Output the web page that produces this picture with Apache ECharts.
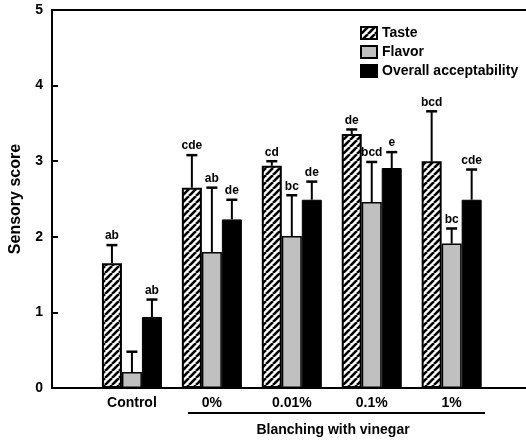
<!DOCTYPE html>
<html><head><meta charset="utf-8">
<script src="https://cdn.jsdelivr.net/npm/echarts@6/dist/echarts.min.js"></script>
<style>html,body{margin:0;padding:0;background:#fff}#c{width:526px;height:442px}</style>
</head><body><div id="c"></div>
<script>
const categories = ['Control', '0%', '0.01%', '0.1%', '1%'];
const seriesNames = ['Taste', 'Flavor', 'Overall acceptability'];
const taste = [1.65, 2.65, 2.94, 3.36, 3.00];
const flavor = [0.21, 1.80, 2.01, 2.46, 1.91];
const overall = [0.94, 2.23, 2.49, 2.91, 2.49];
const tasteErr = [0.24, 0.43, 0.06, 0.06, 0.66];
const flavorErr = [0.27, 0.85, 0.54, 0.53, 0.20];
const overallErr = [0.23, 0.26, 0.24, 0.21, 0.40];
const tasteLetters = ['ab', 'cde', 'cd', 'de', 'bcd'];
const flavorLetters = ['', 'ab', 'bc', 'bcd', 'bc'];
const overallLetters = ['ab', 'de', 'de', 'e', 'cde'];
const yTicks = [0, 1, 2, 3, 4, 5];

const FONT = 'Arial, "Liberation Sans", sans-serif';

function hatch() {
  const s = 7;
  const c = document.createElement('canvas');
  c.width = s; c.height = s;
  const g = c.getContext('2d');
  g.fillStyle = '#fff'; g.fillRect(0, 0, s, s);
  g.strokeStyle = '#000'; g.lineWidth = 2.6;
  for (const k of [-s, 0, s]) {
    g.beginPath(); g.moveTo(k, s); g.lineTo(k + s, 0); g.stroke();
  }
  return c;
}

const chart = echarts.init(document.getElementById('c'), null, {renderer: 'canvas'});
const values = [taste, flavor, overall];
const errs = [tasteErr, flavorErr, overallErr];
const letters = [tasteLetters, flavorLetters, overallLetters];
const styles = [
  {color: {image: hatch(), repeat: 'repeat'}, borderColor: '#000', borderWidth: 2},
  {color: '#c0c0c0', borderColor: '#000', borderWidth: 1.5},
  {color: '#000', borderColor: '#000', borderWidth: 1}
];
const offsets = [-20, 0, 20];

const series = [];
values.forEach((vals, si) => {
  series.push({
    name: seriesNames[si], type: 'bar', barWidth: 20, barGap: '0%',
    itemStyle: styles[si],
    data: vals.map((v, i) => [i + 1, v]),
    z: 2
  });
});
values.forEach((vals, si) => {
  series.push({
    type: 'custom', name: 'err' + si, silent: true, z: 3,
    data: vals.map((v, i) => [i + 1, v, errs[si][i]]),
    renderItem: function (params, api) {
      const x = api.value(0), y = api.value(1), e = api.value(2);
      const lab = letters[si][params.dataIndex];
      const p0 = api.coord([x, y]);
      const p1 = api.coord([x, y + e]);
      const cx = p0[0] + offsets[si];
      const children = [
        {type: 'line', shape: {x1: cx, y1: p0[1], x2: cx, y2: p1[1]}, style: {stroke: '#000', lineWidth: 2}},
        {type: 'line', shape: {x1: cx - 5.5, y1: p1[1], x2: cx + 5.5, y2: p1[1]}, style: {stroke: '#000', lineWidth: 2.5}}
      ];
      if (lab) children.push({type: 'text', style: {text: lab, x: cx, y: p1[1] - 3, align: 'center', verticalAlign: 'bottom', font: 'bold 12px ' + FONT, fill: '#000'}});
      return {type: 'group', children: children};
    }
  });
});

chart.setOption({
  animation: false,
  backgroundColor: '#fff',
  grid: {left: 49, right: 0, top: 10, bottom: 54},
  legend: {
    data: seriesNames, orient: 'vertical', left: 360, top: 26, padding: 0,
    itemWidth: 16, itemHeight: 12, itemGap: 5, icon: 'rect',
    textStyle: {fontFamily: FONT, fontWeight: 'bold', fontSize: 14, color: '#000'}
  },
  xAxis: [{
    type: 'value', min: 0, max: 5.93, interval: 1, position: 'bottom',
    axisLine: {show: true, lineStyle: {color: '#000', width: 2}},
    axisTick: {show: false}, splitLine: {show: false},
    axisLabel: {
      margin: 8, fontFamily: FONT, fontWeight: 'bold', fontSize: 14, color: '#000',
      showMaxLabel: false, showMinLabel: false,
      formatter: v => (Number.isInteger(v) && v >= 1 && v <= categories.length) ? categories[v - 1] : ''
    }
  }, {
    type: 'value', min: 0, max: 5.93, position: 'top',
    axisLine: {show: true, onZero: false, lineStyle: {color: '#000', width: 2}},
    axisTick: {show: false}, axisLabel: {show: false}, splitLine: {show: false}
  }],
  yAxis: {
    type: 'value', min: yTicks[0], max: yTicks[yTicks.length - 1], interval: 1,
    name: 'Sensory score', nameLocation: 'middle', nameGap: 28, nameRotate: 90,
    nameTextStyle: {fontFamily: FONT, fontWeight: 'bold', fontSize: 16, color: '#000'},
    axisLine: {show: true, lineStyle: {color: '#000', width: 2}},
    axisTick: {show: true, inside: true, length: 6, lineStyle: {color: '#000', width: 2}},
    axisLabel: {margin: 9, fontFamily: FONT, fontWeight: 'bold', fontSize: 14, color: '#000'},
    splitLine: {show: false}
  },
  graphic: [
    {type: 'line', shape: {x1: 188, y1: 413, x2: 485, y2: 413}, style: {stroke: '#000', lineWidth: 2}},
    {type: 'text', x: 333, y: 430, style: {text: 'Blanching with vinegar', align: 'center', verticalAlign: 'middle', font: 'bold 14px ' + FONT, fill: '#000'}}
  ],
  series: series
});
</script></body></html>
